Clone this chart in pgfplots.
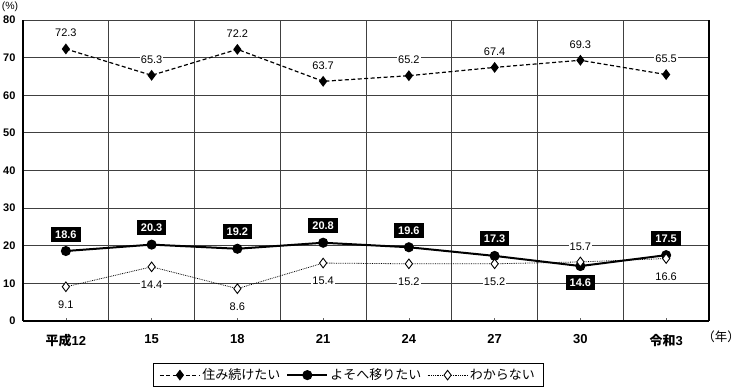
\documentclass[border=0pt]{standalone}
\usepackage{pgfplots}
\pgfplotsset{compat=1.18}
\usepackage{fontspec}
\setmainfont{Liberation Sans}
\newfontfamily\cjk{Noto Sans CJK JP}
\newcommand{\J}[1]{{\cjk #1}}
\begin{document}
\begin{tikzpicture}
\begin{axis}[
  name=ax,
  scale only axis, width=686pt, height=301pt,
  xmin=-0.5, xmax=7.5, ymin=0, ymax=80,
  clip=false,
  xtick={0,...,7},
  xticklabels={\J{平成}12,15,18,21,24,27,30,\J{令和}3},
  minor xtick={-0.5,0.5,...,7.5},
  ytick={0,10,...,80},
  xminorgrids, ymajorgrids,
  grid style={draw=black!75, line width=0.8pt},
  minor grid style={draw=black!75, line width=0.8pt},
  axis x line*=bottom, axis y line*=box,
  axis line style={-, line width=1.4pt, black},
  xtick pos=bottom, ytick pos=left,
  tick align=inside,
  major tick length=3pt, minor tick length=0pt,
  xtick style={draw=black!60, line width=0.6pt},
  ytick style={draw=none},
  /pgf/number format/assume math mode=true,
  yticklabel style={font=\bfseries\fontsize{11}{12}\selectfont, xshift=-4pt},
  xticklabel style={font=\bfseries\fontsize{13}{15}\selectfont, yshift=-10pt},
  legend style={at={(0.1895,-0.1395)}, anchor=north west, draw=black, line width=0.8pt,
    legend columns=3, font=\fontsize{13}{15}\selectfont,
    inner xsep=6pt, inner ysep=3.5pt,
    /tikz/every even column/.append style={column sep=4pt}},
  legend cell align=left,
  legend image code/.code={\draw[mark repeat=2,mark phase=2] plot coordinates {(0cm,0cm)(0.7cm,0cm)(1.4cm,0cm)};},
]
\coordinate (bl) at (rel axis cs:0,0);
\coordinate (tr) at (rel axis cs:1,1);
% series
\addplot[black, line width=1.2pt, dash pattern=on 4pt off 2.5pt, mark=diamond*, mark size=4.5pt, mark options={solid}]
  coordinates {(0,72.3)(1,65.3)(2,72.2)(3,63.7)(4,65.2)(5,67.4)(6,69.3)(7,65.5)};
\addlegendentry{\J{住み続けたい}}
\addplot[black, line width=2pt, mark=*, mark size=4pt, mark options={solid}]
  coordinates {(0,18.6)(1,20.3)(2,19.2)(3,20.8)(4,19.6)(5,17.3)(6,14.6)(7,17.5)};
\addlegendentry{\J{よそへ移りたい}}
\addplot[black, line width=0.8pt, densely dotted, mark=diamond*, mark size=4.8pt, mark options={solid, fill=white, line width=0.9pt}]
  coordinates {(0,9.1)(1,14.4)(2,8.6)(3,15.4)(4,15.2)(5,15.2)(6,15.7)(7,16.6)};
\addlegendentry{\J{わからない}}
% labels series 1
\addplot[draw=none, forget plot, nodes near coords, point meta=explicit symbolic,
  nodes near coords style={anchor=center, yshift=16pt, fill=white, inner sep=1pt, font=\fontsize{11}{12}\selectfont}]
  coordinates {(0,72.3)[72.3](1,65.3)[65.3](2,72.2)[72.2](3,63.7)[63.7](4,65.2)[65.2](5,67.4)[67.4](6,69.3)[69.3](7,65.5)[65.5]};
% labels series 2 above
\addplot[draw=none, forget plot, nodes near coords, point meta=explicit symbolic,
  nodes near coords style={anchor=center, yshift=17pt, fill=black, text=white, inner xsep=4pt, inner ysep=3.5pt, text height=8pt, text depth=0pt, font=\bfseries\fontsize{11}{12}\selectfont}]
  coordinates {(0,18.6)[18.6](1,20.3)[20.3](2,19.2)[19.2](3,20.8)[20.8](4,19.6)[19.6](5,17.3)[17.3](7,17.5)[17.5]};
% labels series 2 below
\addplot[draw=none, forget plot, nodes near coords, point meta=explicit symbolic,
  nodes near coords style={anchor=center, yshift=-16pt, fill=black, text=white, inner xsep=4pt, inner ysep=3.5pt, text height=8pt, text depth=0pt, font=\bfseries\fontsize{11}{12}\selectfont}]
  coordinates {(6,14.6)[14.6]};
% labels series 3 below
\addplot[draw=none, forget plot, nodes near coords, point meta=explicit symbolic,
  nodes near coords style={anchor=center, yshift=-18pt, fill=white, inner sep=1pt, font=\fontsize{11}{12}\selectfont}]
  coordinates {(0,9.1)[9.1](1,14.4)[14.4](2,8.6)[8.6](3,15.4)[15.4](4,15.2)[15.2](5,15.2)[15.2](7,16.6)[16.6]};
% labels series 3 above
\addplot[draw=none, forget plot, nodes near coords, point meta=explicit symbolic,
  nodes near coords style={anchor=center, yshift=15pt, fill=white, inner sep=1pt, font=\fontsize{11}{12}\selectfont}]
  coordinates {(6,15.7)[15.7]};
\node[anchor=center, font=\fontsize{10.5}{12}\selectfont, inner sep=0pt] at ([xshift=-13pt, yshift=13pt]rel axis cs:0,1) {(\%)};
\node[anchor=east, font=\fontsize{12.5}{14}\selectfont, inner sep=0pt] at ([xshift=31pt, yshift=-16pt]rel axis cs:1,0) {\J{（年）}};
\end{axis}
\pgfresetboundingbox
\path ([shift={(-23pt,-68pt)}]bl) rectangle ([shift={(31pt,20pt)}]tr);
\end{tikzpicture}
\end{document}
